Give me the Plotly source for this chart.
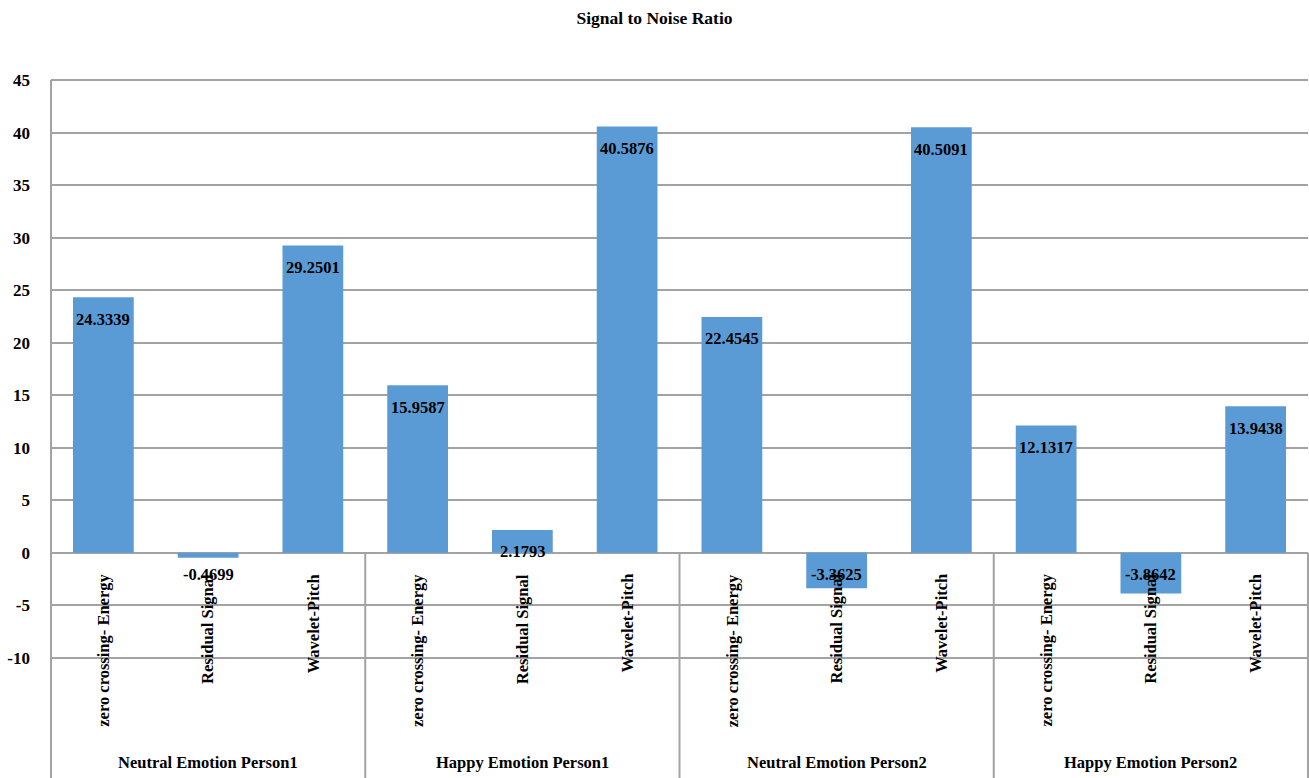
import plotly.graph_objects as go

# Signal-to-noise ratio per feature-extraction method, for each emotion/person set
groups = ["Neutral Emotion Person1", "Happy Emotion Person1",
          "Neutral Emotion Person2", "Happy Emotion Person2"]
methods = ["zero crossing- Energy", "Residual Signal", "Wavelet-Pitch"]

neutral_person1 = [24.3339, -0.4699, 29.2501]
happy_person1 = [15.9587, 2.1793, 40.5876]
neutral_person2 = [22.4545, -3.3625, 40.5091]
happy_person2 = [12.1317, -3.8642, 13.9438]

y_ticks = [-10, -5, 0, 5, 10, 15, 20, 25, 30, 35, 40, 45]
y_min, y_max = -10, 45

series = [neutral_person1, happy_person1, neutral_person2, happy_person2]
values = [v for grp in series for v in grp]
positions = list(range(len(values)))
n_cat = len(values)

FONT = "Liberation Serif"
GRID = "#A3A3A3"
BAR = "#5B9BD5"

W, H = 1309, 778
M_L, M_R, M_T, M_B = 51, 1, 78, 118
plot_h = H - M_T - M_B
# small padding so the end gridlines sit inside the plot area
r0, r1 = y_min - 0.2, y_max + 0.2

fig = go.Figure()
fig.add_trace(go.Bar(
    x=positions, y=values,
    marker=dict(color=BAR, line=dict(width=0)),
    hoverinfo="skip",
))


def xfrac(pos):
    # paper fraction of a position on the [-0.5, n-0.5] category axis
    return (pos + 0.5) / n_cat


def yfrac(val):
    # paper fraction of a value on the y axis
    return (val - r0) / (r1 - r0)


zero_frac = yfrac(0)
bottom_frac = -M_B / plot_h

label_font = dict(family=FONT, size=16.5, color="black", weight="bold")

annotations = []
# value labels: inside the top of positive bars, just under the zero line otherwise
for x, v in zip(positions, values):
    annotations.append(dict(x=x, y=max(v, 0), xref="x", yref="y", text=f"{v:.4f}",
                            showarrow=False, yanchor="middle", yshift=-22,
                            font=label_font))

# rotated method labels under the zero line
for gi, grp in enumerate(groups):
    for mi, m in enumerate(methods):
        x = gi * len(methods) + mi
        annotations.append(dict(x=x, y=zero_frac, xref="x", yref="paper", text=m,
                                showarrow=False, textangle=-90, yanchor="top",
                                yshift=-19, xanchor="center", font=label_font))
    # group labels
    centre = gi * len(methods) + (len(methods) - 1) / 2
    annotations.append(dict(x=centre, y=0, xref="x", yref="paper", text=grp,
                            showarrow=False, yanchor="middle", yshift=-102,
                            font=label_font))

shapes = []
# bottom gridline of the value range
shapes.append(dict(type="line", xref="paper", yref="paper", x0=0, x1=1,
                   y0=yfrac(y_min), y1=yfrac(y_min),
                   line=dict(color=GRID, width=1.5)))
# left axis line running down through the category area
shapes.append(dict(type="line", xref="paper", yref="paper", x0=0, x1=0,
                   y0=yfrac(y_max), y1=bottom_frac,
                   line=dict(color=GRID, width=2)))
# group separators and right border below the zero line
for k in range(1, len(groups) + 1):
    xb = xfrac(k * len(methods) - 0.5)
    shapes.append(dict(type="line", xref="paper", yref="paper", x0=xb, x1=xb,
                       y0=zero_frac, y1=bottom_frac, line=dict(color=GRID, width=2)))

fig.update_layout(
    width=W, height=H,
    margin=dict(l=M_L, r=M_R, t=M_T, b=M_B, pad=0),
    paper_bgcolor="white", plot_bgcolor="white",
    showlegend=False,
    bargap=0.42,
    title=dict(text="Signal to Noise Ratio", x=0.5, xanchor="center",
               y=1 - 18 / H, yanchor="middle",
               font=dict(family=FONT, size=17.5, color="black", weight="bold")),
    xaxis=dict(range=[-0.5, n_cat - 0.5], showticklabels=False, showgrid=False,
               zeroline=False, showline=False, ticks=""),
    yaxis=dict(range=[r0, r1], tickvals=y_ticks,
               ticktext=[str(t) for t in y_ticks],
               showgrid=True, gridcolor=GRID, gridwidth=1.5,
               zeroline=True, zerolinecolor=GRID, zerolinewidth=2,
               showline=False, ticks="", ticklabelstandoff=20,
               tickfont=dict(family=FONT, size=17, color="black", weight="bold")),
    annotations=annotations,
    shapes=shapes,
)

fig.write_html("out.html")
